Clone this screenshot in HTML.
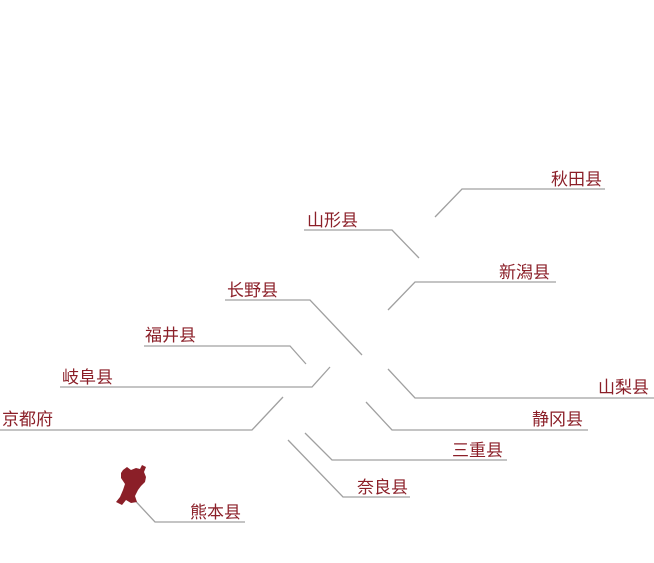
<!DOCTYPE html>
<html><head><meta charset="utf-8"><style>
body{margin:0;background:#fff;width:654px;height:558px;overflow:hidden}
svg text{font-family:"Liberation Sans","Noto Sans CJK SC",sans-serif;font-size:17px;fill:#8b1f28}
</style></head><body>
<svg width="654" height="558" xmlns="http://www.w3.org/2000/svg">
<g fill="none" stroke="#a0a0a0" stroke-width="1.3">
<polyline points="435,217 462,189 605,189"/>
<polyline points="304,230 392,230 419,258"/>
<polyline points="388,310 415,282 556,282"/>
<polyline points="225,300 310,300 362,355"/>
<polyline points="144,346 290,346 306,364"/>
<polyline points="60,387 312,387 330,367"/>
<polyline points="0,430 252,430 283,397"/>
<polyline points="388,369 415,398 654,398"/>
<polyline points="366,402 392,430 588,430"/>
<polyline points="305,433 332,460 507,460"/>
<polyline points="288,440 343,497 410,497"/>
<polyline points="128,493 155,522 245,522"/>
</g>
<path d="M123,470 L127,467 L131,470 L136,468 L140,469 L142,465 L146,467 L144,472 L146,477 L145,482 L141,486 L138,490 L135,496 L137,502 L131,503 L126,500 L122,505 L116,502 L120,497 L123,490 L125,484 L121,478 L121,473 Z" fill="#8b1f28"/>
<text x="551" y="185">秋田县</text>
<text x="307" y="226">山形县</text>
<text x="499" y="278">新潟县</text>
<text x="227" y="296">长野县</text>
<text x="145" y="341">福井县</text>
<text x="62" y="383">岐阜县</text>
<text x="2" y="425">京都府</text>
<text x="598" y="393">山梨县</text>
<text x="532" y="425">静冈县</text>
<text x="452" y="456">三重县</text>
<text x="357" y="493">奈良县</text>
<text x="190" y="518">熊本县</text>
</svg>
</body></html>
